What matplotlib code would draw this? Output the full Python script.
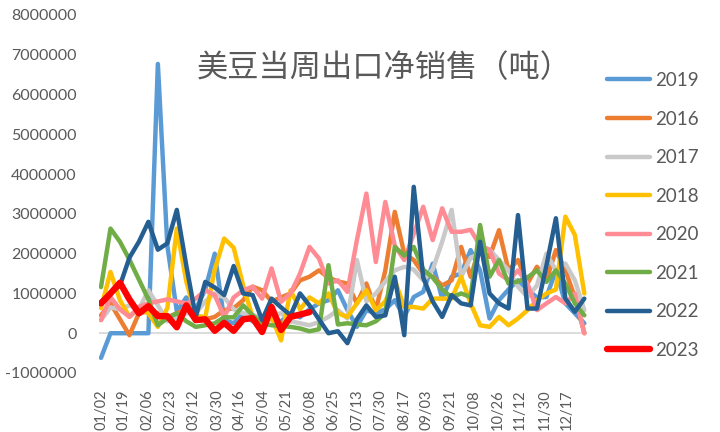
import matplotlib
matplotlib.use("Agg")
import matplotlib.pyplot as plt
import numpy as np
import pandas as pd

# x-axis tick labels (mm/dd)
tick_labels = ["01/02", "01/19", "02/06", "02/23", "03/12", "03/30", "04/16",
               "05/04", "05/21", "06/08", "06/25", "07/13", "07/30", "08/17",
               "09/03", "09/21", "10/08", "10/26", "11/12", "11/30", "12/17"]

# weekly net export sales, million tonnes
s2019 = [-0.62, 0, 0, 0, 0, 0, 6.77, 2.2, 0.55, 0.9, 0.6, 1.1, 2.0, 0.33, 0.25, 0.5, 0.3, 0.4,
         0.35, 0.3, 0.5, 0.4, 0.6, 0.75, 0.83, 1.08, 0.58, 0.16, 0.58, 0.5, 0.6, 0.83, 0.41, 0.91,
         1.04, 1.75, 0.87, 1.42, 1.5, 2.09, 1.58, 0.37, 0.83, 1.1, 1.33, 1.1, 0.9, 0.91, 1.58,
         0.75, 0.5, 0.25]
s2016 = [0.45, 0.75, 0.35, -0.05, 0.5, 0.55, 0.5, 0.4, 0.5, 0.6, 0.4, 0.35, 0.41, 0.58, 0.63,
         0.83, 1.17, 1.08, 0.8, 0.9, 1.0, 1.33, 1.42, 1.58, 1.4, 1.3, 1.25, 0.75, 1.25, 0.58, 1.58,
         3.05, 2.0, 1.84, 1.5, 1.42, 1.2, 1.33, 2.17, 1.42, 2.17, 1.92, 2.59, 1.58, 1.84, 1.25,
         1.67, 1.33, 2.09, 1.58, 0.91, 0.0]
s2017 = [0.33, 0.65, 0.6, 0.7, 0.6, 1.08, 0.7, 0.3, 0.4, 0.5, 0.5, 0.8, 1.0, 0.9, 0.6, 0.5, 0.45,
         0.4, 0.45, 0.5, 0.3, 0.25, 0.2, 0.28, 0.41, 0.58, 0.37, 1.84, 0.8, 1.0, 1.3, 1.58, 1.67,
         1.6, 1.33, 1.6, 2.3, 3.1, 1.42, 1.9, 2.0, 2.1, 1.84, 1.58, 1.17, 0.91, 1.2, 2.0, 1.58,
         1.75, 1.33, 0.58]
s2018 = [0.63, 1.54, 0.83, 0.41, 0.63, 0.5, 0.16, 0.63, 2.63, 1.3, 0.45, 0.4, 1.6, 2.38, 2.15,
         1.2, 0.4, 0.2, 0.4, -0.18, 1.08, 0.6, 0.9, 0.75, 1.0, 0.5, 0.41, 0.75, 1.08, 0.58, 0.8,
         1.33, 0.66, 0.66, 0.62, 0.87, 0.87, 0.87, 1.42, 0.75, 0.2, 0.16, 0.41, 0.2, 0.37, 0.58,
         0.83, 1.0, 1.1, 2.93, 2.47, 1.0]
s2020 = [0.33, 0.91, 0.6, 0.41, 0.66, 0.75, 0.8, 0.85, 0.8, 0.75, 0.87, 1.08, 0.96, 0.41, 0.9,
         1.08, 1.17, 0.87, 1.63, 0.79, 1.0, 1.5, 2.17, 1.88, 1.25, 1.33, 1.04, 2.34, 3.51, 1.79,
         3.3, 2.2, 1.84, 2.5, 3.18, 2.34, 3.14, 2.55, 2.55, 2.6, 2.2, 2.1, 1.5, 1.33, 1.58, 1.25,
         0.58, 0.75, 0.91, 0.75, 1.0, 0.0]
s2021 = [1.16, 2.63, 2.3, 1.85, 1.35, 0.85, 0.2, 0.38, 0.5, 0.3, 0.16, 0.2, 0.25, 0.4, 0.4, 0.7,
         0.45, 0.25, 0.2, 0.18, 0.16, 0.12, 0.05, 0.1, 1.71, 0.22, 0.25, 0.22, 0.2, 0.3, 0.5, 2.17,
         1.95, 2.17, 1.6, 1.4, 1.1, 0.9, 1.0, 0.91, 2.72, 1.42, 1.84, 1.25, 1.3, 1.4, 1.58, 1.29,
         1.58, 1.25, 0.75, 0.45]
s2022 = [0.79, 1.0, 1.2, 1.9, 2.3, 2.8, 2.1, 2.26, 3.1, 1.7, 0.41, 1.29, 1.15, 0.96, 1.69, 1.0,
         0.96, 0.33, 0.87, 0.65, 0.45, 1.0, 0.7, 0.35, 0.0, 0.05, -0.25, 0.35, 0.7, 0.41, 0.45,
         1.42, -0.05, 3.68, 1.4, 0.8, 0.41, 0.96, 0.75, 0.7, 2.3, 1.0, 0.75, 0.62, 2.97, 0.62,
         0.62, 1.7, 2.89, 0.87, 0.54, 0.87]
s2023 = [0.75, 1.0, 1.27, 0.85, 0.5, 0.68, 0.43, 0.43, 0.15, 0.7, 0.33, 0.35, 0.06, 0.26, 0.06,
         0.35, 0.38, 0.03, 0.66, 0.08, 0.41, 0.47, 0.53]

series = [("2019", s2019, "#5B9BD5", 3.2),
          ("2016", s2016, "#ED7D31", 3.2),
          ("2017", s2017, "#C9C9C9", 3.2),
          ("2018", s2018, "#FFC000", 3.2),
          ("2020", s2020, "#FF8C94", 3.2),
          ("2021", s2021, "#70AD47", 3.2),
          ("2022", s2022, "#255E91", 3.2),
          ("2023", s2023, "#FF0000", 4.6)]

# weekly points from Jan 2 to Dec 30 (day of year)
weeks = np.arange(52)
days = 2 + weeks * 362 / 51
tick_pos = [pd.Timestamp("2023-" + t.replace("/", "-")).dayofyear for t in tick_labels]

fig = plt.figure(figsize=(7.2, 4.32), dpi=100)
ax = fig.add_axes([99 / 720, 1 - 373 / 432, 488 / 720, 358 / 432])

ax.axhline(0, color="#D9D9D9", lw=1.3, zorder=0.5)
for name, vals, col, lw in series:
    v = np.array(vals) * 1e6
    ax.plot(days[:len(v)], v, color=col, lw=lw, label=name,
            solid_joinstyle="round", solid_capstyle="round")

ax.set_xlim(0.5, 366)
ax.set_ylim(-1e6, 8e6)
ax.set_yticks(np.arange(-1e6, 8e6 + 1, 1e6))
ax.set_yticklabels([f"{int(t)}" for t in np.arange(-1e6, 8e6 + 1, 1e6)])
ax.set_xticks(tick_pos)
ax.set_xticklabels(tick_labels, rotation=90)
ax.tick_params(axis="both", length=0, colors="#595959")
ax.tick_params(axis="y", pad=16, labelsize=11.5)
ax.tick_params(axis="x", pad=12, labelsize=10.5)
for lab in ax.get_xticklabels() + ax.get_yticklabels():
    lab.set_family(["Lato", "DejaVu Sans"])
for sp in ax.spines.values():
    sp.set_visible(False)

ax.text(0.585, 0.852, "美豆当周出口净销售（吨）", transform=ax.transAxes,
        ha="center", va="center", fontsize=22.5, color="#595959",
        family=["Noto Sans CJK SC", "DejaVu Sans"], fontweight="light")

leg = fig.legend(loc="upper left", bbox_to_anchor=(607 / 720, 1 - 72 / 432),
                 frameon=False, handlelength=2.3, handletextpad=0.25,
                 labelspacing=1.15, borderaxespad=0, borderpad=0,
                 prop={"family": ["Lato", "DejaVu Sans"], "size": 13.5})
for t in leg.get_texts():
    t.set_color("#595959")

fig.savefig("out.png", dpi=100)
